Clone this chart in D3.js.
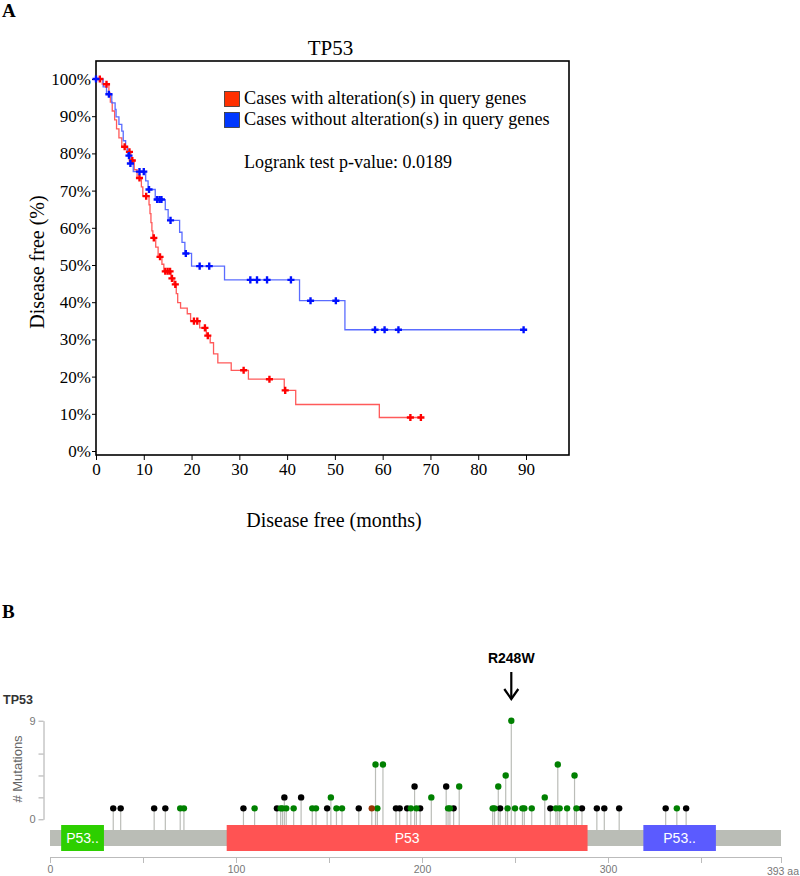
<!DOCTYPE html>
<html>
<head>
<meta charset="utf-8">
<script src="https://cdn.jsdelivr.net/npm/d3@7"></script>
<style>
  body { margin: 0; background: #fff; }
  svg { display: block; }
  .serif { font-family: "Liberation Serif", "Times New Roman", serif; }
  .sans { font-family: "Liberation Sans", Arial, sans-serif; }
</style>
</head>
<body>
<svg id="chart" width="800" height="876"></svg>
<script>
// ---- Panel A: Kaplan-Meier, disease free survival (months, % free) ----
var alteredSteps = [
  [0, 100], [1.3, 98.6], [2.7, 96.2], [3.0, 93.8], [3.4, 91.4], [3.9, 89.0], [4.3, 86.6],
  [4.8, 84.2], [5.4, 81.8], [6.5, 80.4], [7.3, 78.1], [8.0, 75.6], [8.6, 73.4], [9.5, 71.0],
  [9.8, 68.5], [11.1, 66.2], [11.3, 63.8], [11.5, 61.4], [11.7, 59.2], [11.9, 57.3],
  [12.5, 54.8], [13.0, 52.2], [13.8, 50.2], [14.2, 48.3], [15.7, 46.4], [16.3, 44.8],
  [16.8, 42.3], [17.1, 39.9], [17.7, 38.4], [19.1, 36.9], [19.8, 34.9], [21.7, 33.1],
  [23.1, 31.0], [23.9, 29.1], [24.6, 26.1], [25.5, 23.7], [28.3, 21.7], [31.9, 19.3],
  [39.4, 16.3], [41.8, 12.5], [59.3, 9.0]
];
var alteredEnd = 68.0;
var alteredCensored = [0.8, 2.2, 6.0, 7.0, 7.6, 9.1, 10.5, 12.1, 13.4, 14.5, 15.0, 15.5, 15.9,
  16.6, 20.5, 21.2, 22.8, 23.4, 30.9, 36.3, 39.6, 65.8, 68.0];

var unalteredSteps = [
  [0, 100], [1.5, 97.9], [2.2, 95.9], [3.3, 93.6], [4.0, 91.8], [4.2, 89.8], [4.8, 87.8],
  [5.4, 86.0], [5.7, 83.4], [6.2, 81.6], [6.6, 79.4], [7.1, 77.3], [7.8, 75.1], [10.4, 72.6],
  [10.9, 70.3], [12.4, 67.6], [14.5, 64.9], [15.1, 62.0], [17.5, 58.8], [18.0, 56.1],
  [18.6, 53.1], [20.0, 49.7], [26.9, 46.0], [42.6, 40.4], [52.1, 32.6]
];
var unalteredEnd = 89.5;
var unalteredCensored = [0, 2.7, 6.9, 7.2, 9.1, 10.0, 11.1, 12.8, 13.3, 13.7, 15.6, 18.8, 21.7,
  23.7, 32.3, 33.7, 35.8, 40.8, 44.9, 50.2, 58.4, 60.4, 63.3, 89.5];

var monthTicks = [0, 10, 20, 30, 40, 50, 60, 70, 80, 90];
var percentTicks = [0, 10, 20, 30, 40, 50, 60, 70, 80, 90, 100];
var legendLabels = ["Cases with alteration(s) in query genes", "Cases without alteration(s) in query genes"];
var pValue = "0.0189";

// ---- Panel B: TP53 lollipop, [amino acid position, count] ----
var missense = [
  [70, 1], [72, 1], [110, 1], [124, 1], [125, 1], [127, 1], [131, 1], [141, 1], [143, 1],
  [151, 2], [154, 1], [157, 1], [175, 5], [176, 1], [179, 5], [194, 1], [197, 1], [205, 2],
  [214, 1], [215, 1], [220, 3], [238, 1], [239, 1], [241, 3], [245, 4], [246, 1], [248, 9],
  [250, 1], [254, 1], [255, 1], [259, 1], [266, 2], [272, 1], [273, 5], [274, 1], [278, 1],
  [282, 4], [283, 1], [337, 1]
];
var truncating = [
  [34, 1], [38, 1], [56, 1], [62, 1], [104, 1], [122, 1], [126, 2], [135, 2], [149, 1],
  [166, 1], [186, 1], [188, 1], [192, 1], [196, 3], [199, 1], [213, 3], [217, 1], [242, 1],
  [269, 1], [286, 1], [294, 1], [298, 1], [306, 1], [331, 1], [342, 1]
];
var inframe = [[173, 1]];
var domains = [
  {start: 6, end: 29, label: "P53..", color: "#2dcf00"},
  {start: 95, end: 289, label: "P53", color: "#ff5353"},
  {start: 319, end: 358, label: "P53..", color: "#5b5bff"}
];
var proteinLength = 393;
var highlight = {pos: 248, label: "R248W"};

var svg = d3.select("#chart");

// ================= Panel A =================
var box = {left: 96, right: 569, top: 61, bottom: 455};
var x = d3.scaleLinear().domain([0, 90]).range([96, 526]);
var y = d3.scaleLinear().domain([0, 100]).range([451, 79]);

svg.append("text").attr("class", "serif")
  .attr("x", 2).attr("y", 17)
  .attr("font-size", 19).attr("font-weight", "bold")
  .text("A");

svg.append("text").attr("class", "serif")
  .attr("x", (box.left + box.right) / 2 - 2).attr("y", 55)
  .attr("text-anchor", "middle").attr("font-size", 21)
  .text("TP53");

var gx = svg.append("g")
  .attr("class", "serif")
  .attr("transform", "translate(0," + box.bottom + ")")
  .call(d3.axisBottom(x).tickValues(monthTicks).tickSize(5).tickPadding(3).tickSizeOuter(0));
gx.select(".domain").remove();
gx.selectAll("text").attr("font-size", 17).attr("font-family", "Liberation Serif").attr("fill", "#000");

var gy = svg.append("g")
  .attr("class", "serif")
  .attr("transform", "translate(" + box.left + ",0)")
  .call(d3.axisLeft(y).tickValues(percentTicks).tickFormat(function(d) { return d + "%"; })
    .tickSize(4).tickPadding(1).tickSizeOuter(0));
gy.select(".domain").remove();
gy.selectAll("text").attr("font-size", 17).attr("font-family", "Liberation Serif").attr("fill", "#000");

svg.append("rect")
  .attr("x", box.left).attr("y", box.top)
  .attr("width", box.right - box.left).attr("height", box.bottom - box.top)
  .attr("fill", "none").attr("stroke", "#000").attr("stroke-width", 1.6);

svg.append("text").attr("class", "serif")
  .attr("x", 334).attr("y", 527)
  .attr("text-anchor", "middle").attr("font-size", 20)
  .text("Disease free (months)");

svg.append("text").attr("class", "serif")
  .attr("transform", "translate(44,262) rotate(-90)")
  .attr("text-anchor", "middle").attr("font-size", 20)
  .text("Disease free (%)");

function survivalAt(steps, t) {
  var s = steps[0][1];
  steps.forEach(function(p) { if (p[0] <= t) s = p[1]; });
  return s;
}

var kmLine = d3.line()
  .x(function(d) { return x(d[0]); })
  .y(function(d) { return y(d[1]); })
  .curve(d3.curveStepAfter);

var curves = [
  {steps: alteredSteps, end: alteredEnd, censored: alteredCensored, line: "#ff5a5a", mark: "#ff0000"},
  {steps: unalteredSteps, end: unalteredEnd, censored: unalteredCensored, line: "#5a6cff", mark: "#0010ff"}
];

curves.forEach(function(c) {
  var pts = c.steps.concat([[c.end, c.steps[c.steps.length - 1][1]]]);
  svg.append("path")
    .attr("d", kmLine(pts))
    .attr("fill", "none").attr("stroke", c.line).attr("stroke-width", 1.3);
});

curves.forEach(function(c) {
  svg.append("g").selectAll("path")
    .data(c.censored)
    .enter().append("path")
    .attr("d", d3.symbol().type(d3.symbolCross).size(28))
    .attr("transform", function(t) { return "translate(" + x(t) + "," + y(survivalAt(c.steps, t)) + ")"; })
    .attr("fill", c.mark);
});

// legend
var legendColors = ["#ff3000", "#0037ff"];
legendLabels.forEach(function(label, i) {
  svg.append("rect")
    .attr("x", 224.5).attr("y", 91.5 + i * 21)
    .attr("width", 15).attr("height", 15)
    .attr("fill", legendColors[i]).attr("stroke", "#333").attr("stroke-width", 0.8);
  svg.append("text").attr("class", "serif")
    .attr("x", 244).attr("y", 104 + i * 21)
    .attr("font-size", 18.2)
    .text(label);
});
svg.append("text").attr("class", "serif")
  .attr("x", 244).attr("y", 168)
  .attr("font-size", 18)
  .text("Logrank test p-value: " + pValue);

// ================= Panel B =================
var ax = d3.scaleLinear().domain([0, proteinLength]).range([50, 781]);
var cy = d3.scaleLinear().domain([0, 9]).range([819.3, 720.7]);
var barTop = 830, barBottom = 846;

svg.append("text").attr("class", "serif")
  .attr("x", 2).attr("y", 618)
  .attr("font-size", 19).attr("font-weight", "bold")
  .text("B");

svg.append("text").attr("class", "sans")
  .attr("x", 3).attr("y", 704)
  .attr("font-size", 12.5).attr("font-weight", "bold").attr("fill", "#333")
  .text("TP53");

svg.append("text").attr("class", "sans")
  .attr("transform", "translate(22,769) rotate(-90)")
  .attr("text-anchor", "middle").attr("font-size", 13).attr("fill", "#666")
  .text("# Mutations");

var gcy = svg.append("g")
  .attr("class", "sans")
  .attr("transform", "translate(43.5,0)")
  .call(d3.axisLeft(cy).tickValues([0, 2, 4, 6, 9])
    .tickFormat(function(d) { return d === 0 || d === 9 ? d : ""; })
    .tickSize(5).tickPadding(3).tickSizeOuter(0));
gcy.select(".domain").attr("stroke", "#aaa");
gcy.selectAll("line").attr("stroke", "#aaa");
gcy.selectAll("text").attr("font-size", 11).attr("fill", "#777").attr("font-family", "Liberation Sans");

var allMutations = []
  .concat(truncating.map(function(d) { return {pos: d[0], count: d[1], color: "#000000"}; }))
  .concat(missense.map(function(d) { return {pos: d[0], count: d[1], color: "#008000"}; }))
  .concat(inframe.map(function(d) { return {pos: d[0], count: d[1], color: "#993404"}; }));

svg.append("g").selectAll("line")
  .data(allMutations)
  .enter().append("line")
  .attr("x1", function(d) { return ax(d.pos); })
  .attr("x2", function(d) { return ax(d.pos); })
  .attr("y1", barTop)
  .attr("y2", function(d) { return cy(d.count); })
  .attr("stroke", "#bbbdb8").attr("stroke-width", 1.2);

svg.append("g").selectAll("circle")
  .data(allMutations)
  .enter().append("circle")
  .attr("cx", function(d) { return ax(d.pos); })
  .attr("cy", function(d) { return cy(d.count); })
  .attr("r", 3.2)
  .attr("fill", function(d) { return d.color; });

svg.append("rect")
  .attr("x", ax(0)).attr("y", barTop)
  .attr("width", ax(proteinLength) - ax(0)).attr("height", barBottom - barTop)
  .attr("fill", "#babdb6");

domains.forEach(function(d) {
  svg.append("rect")
    .attr("x", ax(d.start)).attr("y", 825)
    .attr("width", ax(d.end) - ax(d.start)).attr("height", 26)
    .attr("fill", d.color);
  svg.append("text").attr("class", "sans")
    .attr("x", (ax(d.start) + ax(d.end)) / 2).attr("y", 843)
    .attr("text-anchor", "middle").attr("font-size", 14).attr("fill", "#fff")
    .text(d.label);
});

// protein axis
var gax = svg.append("g")
  .attr("class", "sans")
  .attr("transform", "translate(0,857)")
  .call(d3.axisBottom(ax).tickValues([0, 50, 100, 150, 200, 250, 300, 350, 393])
    .tickFormat(function(d) { return d % 100 === 0 ? d : ""; })
    .tickSize(6).tickPadding(3).tickSizeOuter(0));
gax.select(".domain").attr("stroke", "#bbb");
gax.selectAll("line").attr("stroke", "#bbb");
gax.selectAll("text").attr("font-size", 10.5).attr("fill", "#777").attr("font-family", "Liberation Sans");
svg.append("text").attr("class", "sans")
  .attr("x", 799).attr("y", 875)
  .attr("text-anchor", "end").attr("font-size", 10.5).attr("fill", "#777")
  .text(proteinLength + " aa");

// highlighted hotspot
svg.append("text").attr("class", "sans")
  .attr("x", ax(highlight.pos)).attr("y", 663)
  .attr("text-anchor", "middle").attr("font-size", 14).attr("font-weight", "bold")
  .text(highlight.label);
svg.append("line")
  .attr("x1", ax(highlight.pos)).attr("x2", ax(highlight.pos))
  .attr("y1", 672).attr("y2", 699)
  .attr("stroke", "#000").attr("stroke-width", 2.2);
svg.append("path")
  .attr("d", "M" + (ax(highlight.pos) - 7) + ",689 L" + ax(highlight.pos) + ",699 L" + (ax(highlight.pos) + 7) + ",689")
  .attr("fill", "none").attr("stroke", "#000").attr("stroke-width", 2.2);
</script>
</body>
</html>
